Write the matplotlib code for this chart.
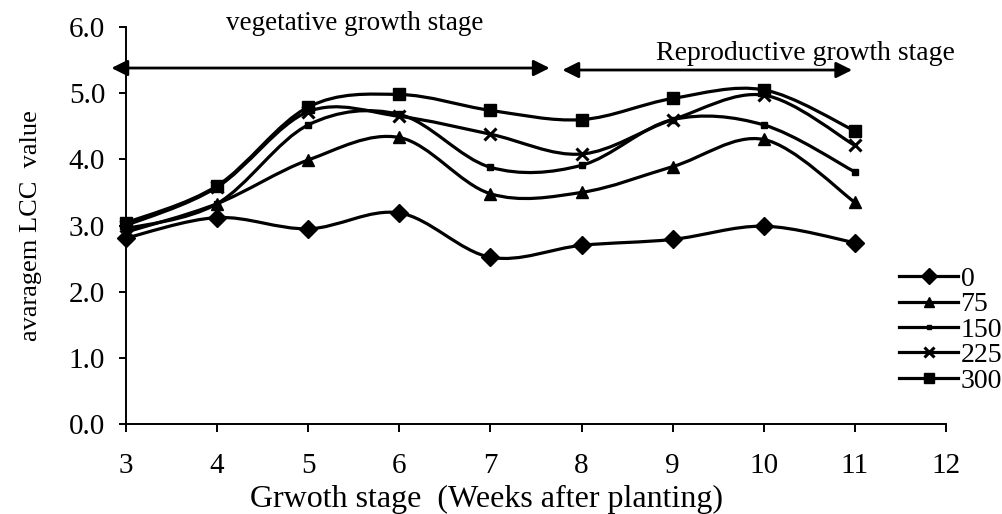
import numpy as np
import matplotlib
matplotlib.use('Agg')
import matplotlib.pyplot as plt
from matplotlib.path import Path
from matplotlib.patches import PathPatch
from matplotlib.lines import Line2D

# ---- data ----
weeks = [3, 4, 5, 6, 7, 8, 9, 10, 11]
series_names = ['0', '75', '150', '225', '300']
lcc_0 = [2.81, 3.12, 2.95, 3.19, 2.52, 2.70, 2.79, 2.99, 2.74]
lcc_75 = [2.90, 3.33, 3.99, 4.33, 3.48, 3.50, 3.89, 4.30, 3.35]
lcc_150 = [2.95, 3.33, 4.52, 4.68, 3.88, 3.91, 4.60, 4.52, 3.81]
lcc_225 = [3.00, 3.58, 4.72, 4.65, 4.38, 4.08, 4.60, 4.97, 4.21]
lcc_300 = [3.04, 3.60, 4.79, 4.98, 4.74, 4.60, 4.92, 5.05, 4.43]
x_ticks = [3, 4, 5, 6, 7, 8, 9, 10, 11, 12]
y_ticks = [0.0, 1.0, 2.0, 3.0, 4.0, 5.0, 6.0]

all_series = [lcc_0, lcc_75, lcc_150, lcc_225, lcc_300]
markers = ['D', '^', 's', 'x', 's']
msizes = [9, 8, 4, 9, 8]
leg_msizes = [8, 7, 3, 7, 7]

plt.rcParams['font.family'] = ['Liberation Serif', 'DejaVu Serif']

fig = plt.figure(figsize=(10.03, 5.14), dpi=100)
ax = fig.add_axes([126 / 1003, 1 - 424 / 514, (946 - 126) / 1003, (424 - 27) / 514])


def smooth_path(xs, ys):
    pts = np.column_stack([xs, ys]).astype(float)
    n = len(pts)
    verts = [pts[0]]
    codes = [Path.MOVETO]
    for i in range(n - 1):
        p0 = pts[i - 1] if i > 0 else pts[i]
        p1 = pts[i]
        p2 = pts[i + 1]
        p3 = pts[i + 2] if i + 2 < n else pts[i + 1]
        c1 = p1 + (p2 - p0) / 6.0
        c2 = p2 - (p3 - p1) / 6.0
        verts += [c1, c2, p2]
        codes += [Path.CURVE4] * 3
    return Path(verts, codes)


handles = []
for name, vals, mk, ms, lms in zip(series_names, all_series, markers, msizes, leg_msizes):
    patch = PathPatch(smooth_path(weeks, vals), fill=False, edgecolor='black', lw=2.3,
                      zorder=3)
    ax.add_patch(patch)
    ax.plot(weeks, vals, linestyle='none', marker=mk, markersize=ms, color='black',
            markeredgewidth=2.2 if mk == 'x' else 1, zorder=4, clip_on=False)
    handles.append(Line2D([], [], color='black', lw=2.3, marker=mk, markersize=lms,
                          markeredgewidth=2.2 if mk == 'x' else 1))

ax.set_xlim(3, 12)
ax.set_ylim(0, 6)
ax.set_xticks(x_ticks)
ax.set_xticklabels([str(t) for t in x_ticks])
ax.set_yticks(y_ticks)
ax.set_yticklabels(['%.1f' % t for t in y_ticks])
for s in ['top', 'right']:
    ax.spines[s].set_visible(False)
for s in ['left', 'bottom']:
    ax.spines[s].set_linewidth(1.4)
ax.tick_params(axis='x', direction='out', length=6, width=1.4, pad=15, labelsize=21)
ax.tick_params(axis='y', direction='out', length=5, width=1.4, pad=10, labelsize=21)

ax.set_ylabel('avaragem LCC  value', fontsize=19)
ax.yaxis.set_label_coords(-0.102, 0.5)
fig.text(487 / 1003, 1 - 499 / 514, 'Grwoth stage  (Weeks after planting)',
         ha='center', va='center', fontsize=23)

# stage arrows
arrow_kw = dict(arrowstyle='<|-|>', color='black', lw=2.0, mutation_scale=24,
                shrinkA=0, shrinkB=0)
ax.annotate('', xy=(7.65, 5.38), xytext=(2.84, 5.38), arrowprops=arrow_kw,
            annotation_clip=False)
ax.annotate('', xy=(10.97, 5.35), xytext=(7.79, 5.35), arrowprops=arrow_kw,
            annotation_clip=False)
ax.text(5.51, 6.06, 'vegetative growth stage', ha='center', va='center', fontsize=19.5,
        clip_on=False)
ax.text(10.46, 5.6, 'Reproductive growth stage', ha='center', va='center', fontsize=20,
        clip_on=False)

fig.legend(handles=handles, labels=series_names, loc='center left',
           bbox_to_anchor=(880 / 1003, 1 - 330 / 514), frameon=False, fontsize=20,
           handlelength=2.1, handletextpad=0.1, labelspacing=0.0, borderpad=0.2)

fig.savefig('out.png', dpi=100)
